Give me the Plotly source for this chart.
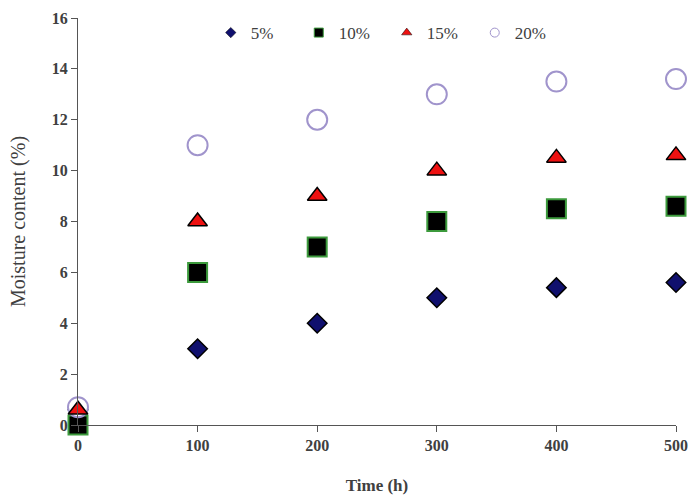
import plotly.graph_objects as go

time_h = [0, 100, 200, 300, 400, 500]
m5 = [0.6, 3.0, 4.0, 5.0, 5.4, 5.6]
m10 = [0.0, 6.0, 7.0, 8.0, 8.5, 8.6]
m15 = [0.6, 8.0, 9.0, 10.0, 10.5, 10.6]
m20 = [0.7, 11.0, 12.0, 13.0, 13.5, 13.6]
labels = ["5%", "10%", "15%", "20%"]

styles = [
    dict(symbol="diamond", size=15, color="#10106e", line=dict(color="#000000", width=1.5)),
    dict(symbol="square", size=19, color="#000000", line=dict(color="#3c9a3c", width=2)),
    dict(symbol="triangle-up", size=17, color="#ee1111", line=dict(color="#000000", width=1.5)),
    dict(symbol="circle", size=20, color="#ffffff", line=dict(color="#a094cc", width=2)),
]
legend_styles = [
    dict(symbol="diamond", size=8, color="#10106e", line=dict(color="#000000", width=0.5)),
    dict(symbol="square", size=9, color="#000000", line=dict(color="#3c9a3c", width=1)),
    dict(symbol="triangle-up", size=9, color="#ee1111", line=dict(color="#000000", width=0.5)),
    dict(symbol="circle", size=9, color="#ffffff", line=dict(color="#a094cc", width=1)),
]

fig = go.Figure()
series = [m5, m10, m15, m20]
order = [0, 1, 3, 2]
for i in order:
    fig.add_trace(go.Scatter(x=time_h, y=series[i], mode="markers", marker=styles[i],
                             showlegend=False, cliponaxis=False, name=labels[i]))
for i in range(4):
    fig.add_trace(go.Scatter(x=[None], y=[None], mode="markers", marker=legend_styles[i],
                             name=labels[i], showlegend=True))

font_family = "Liberation Serif, Times New Roman, serif"
fig.update_layout(
    width=697, height=495,
    margin=dict(l=78, r=21, t=18, b=70),
    paper_bgcolor="white", plot_bgcolor="white",
    font=dict(family=font_family, size=15, color="#404040"),
    legend=dict(orientation="h", x=0.222, xanchor="left", y=0.963, yanchor="middle",
                font=dict(family=font_family, size=17, color="#404040"),
                entrywidth=43, entrywidthmode="pixels", itemwidth=30,
                tracegroupgap=0, bgcolor="rgba(0,0,0,0)"),
    xaxis=dict(range=[0, 500], tickvals=[0, 100, 200, 300, 400, 500],
               showline=True, linecolor="#555555", linewidth=1.2,
               ticks="outside", ticklen=6, tickcolor="#555555",
               showgrid=False, zeroline=False, automargin=False,
               tickfont=dict(family=font_family, size=16, color="#404040", weight="bold"),
               title=dict(text="<b>Time (h)</b>", standoff=26,
                          font=dict(family=font_family, size=17, color="#404040"))),
    yaxis=dict(range=[0, 16], tickvals=[0, 2, 4, 6, 8, 10, 12, 14, 16],
               showline=True, linecolor="#555555", linewidth=1.2,
               ticks="outside", ticklen=6, tickcolor="#555555",
               showgrid=False, zeroline=False, automargin=False,
               tickfont=dict(family=font_family, size=16, color="#404040", weight="bold"),
               title=dict(text="Moisture content (%)", standoff=20,
                          font=dict(family=font_family, size=20, color="#404040"))),
)
fig.write_html("out.html")
